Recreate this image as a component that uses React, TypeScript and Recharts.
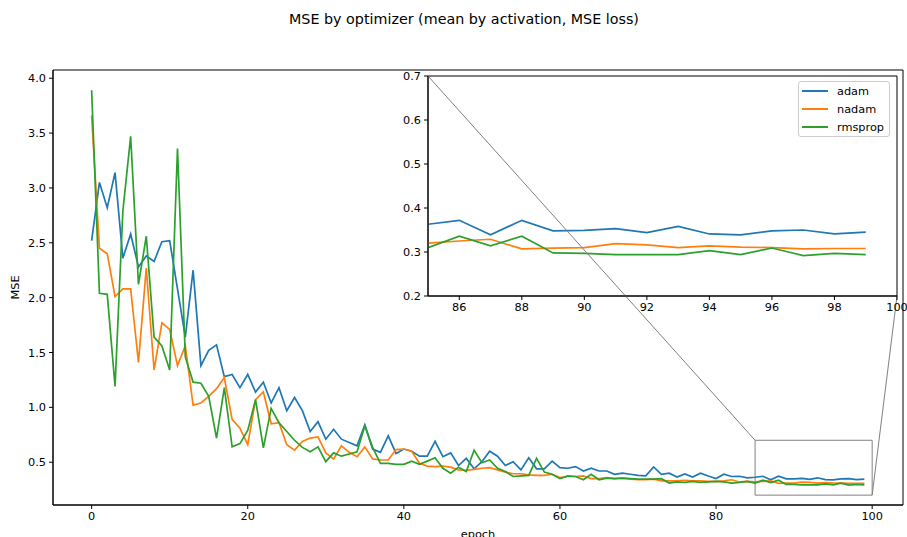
import React from 'react';
import {
  LineChart,
  Line,
  XAxis,
  YAxis,
  CartesianGrid,
  ReferenceArea,
  ReferenceLine,
  Legend,
  Label,
} from 'recharts';

// ---- data ----
const epochs = Array.from({ length: 100 }, (_, i) => i);

const adam = [
  2.52, 3.05, 2.82, 3.14, 2.36, 2.58, 2.28, 2.38, 2.33, 2.51,
  2.52, 2.08, 1.64, 2.25, 1.38, 1.52, 1.57, 1.28, 1.30, 1.18,
  1.30, 1.14, 1.23, 1.04, 1.18, 0.97, 1.09, 0.97, 0.78, 0.87,
  0.71, 0.80, 0.71, 0.68, 0.65, 0.84, 0.62, 0.59, 0.74, 0.58,
  0.62, 0.60, 0.555, 0.555, 0.69, 0.55, 0.585, 0.47, 0.535, 0.44,
  0.505, 0.60, 0.555, 0.47, 0.505, 0.43, 0.54, 0.44, 0.44, 0.51,
  0.45, 0.445, 0.46, 0.42, 0.445, 0.42, 0.42, 0.39, 0.40, 0.39,
  0.38, 0.375, 0.457, 0.39, 0.40, 0.365, 0.393, 0.365, 0.40, 0.374,
  0.351, 0.39, 0.37, 0.372, 0.357, 0.363, 0.372, 0.339, 0.372, 0.348,
  0.349, 0.353, 0.344, 0.358, 0.341, 0.339, 0.348, 0.350, 0.341, 0.345,
];

const nadam = [
  3.66, 2.45, 2.40, 2.01, 2.08, 2.08, 1.41, 2.27, 1.34, 1.77,
  1.71, 1.38, 1.56, 1.02, 1.04, 1.10, 1.17, 1.27, 0.89, 0.81,
  0.66, 1.07, 1.14, 0.85, 0.86, 0.66, 0.61, 0.69, 0.72, 0.73,
  0.585, 0.53, 0.65, 0.59, 0.55, 0.64, 0.53, 0.52, 0.52, 0.615,
  0.62, 0.60, 0.49, 0.465, 0.46, 0.465, 0.455, 0.43, 0.425, 0.435,
  0.445, 0.45, 0.43, 0.41, 0.395, 0.395, 0.385, 0.38, 0.38, 0.39,
  0.36, 0.37, 0.37, 0.375, 0.35, 0.35, 0.36, 0.35, 0.355, 0.345,
  0.34, 0.34, 0.345, 0.33, 0.33, 0.33, 0.335, 0.33, 0.33, 0.325,
  0.325, 0.33, 0.34, 0.32, 0.325, 0.320, 0.325, 0.329, 0.307, 0.309,
  0.310, 0.319, 0.316, 0.310, 0.314, 0.311, 0.310, 0.307, 0.308, 0.308,
];

const rmsprop = [
  3.89, 2.04, 2.03, 1.19, 2.79, 3.47, 2.12, 2.56, 1.64, 1.56,
  1.34, 3.36, 1.46, 1.23, 1.22, 1.10, 0.72, 1.18, 0.64, 0.67,
  0.79, 1.07, 0.63, 0.99, 0.86, 0.78, 0.70, 0.635, 0.595, 0.64,
  0.505, 0.585, 0.555, 0.575, 0.595, 0.83, 0.635, 0.49, 0.49, 0.48,
  0.48, 0.51, 0.48, 0.51, 0.54, 0.445, 0.40, 0.455, 0.415, 0.61,
  0.495, 0.52, 0.445, 0.415, 0.37, 0.375, 0.38, 0.535, 0.41, 0.39,
  0.35, 0.375, 0.37, 0.34, 0.39, 0.34, 0.355, 0.35, 0.355, 0.35,
  0.345, 0.345, 0.345, 0.35, 0.31, 0.32, 0.315, 0.325, 0.315, 0.32,
  0.325, 0.32, 0.31, 0.315, 0.325, 0.310, 0.336, 0.314, 0.336, 0.298,
  0.297, 0.294, 0.294, 0.294, 0.303, 0.294, 0.309, 0.292, 0.297, 0.294,
];

const seriesNames = ['adam', 'nadam', 'rmsprop'];
const seriesColors = ['#1f77b4', '#ff7f0e', '#2ca02c'];

const mainXTicks = [0, 20, 40, 60, 80, 100];
const mainYTicks = [0.5, 1.0, 1.5, 2.0, 2.5, 3.0, 3.5, 4.0];
const insetXTicks = [86, 88, 90, 92, 94, 96, 98, 100];
const insetYTicks = [0.2, 0.3, 0.4, 0.5, 0.6, 0.7];

// zoom window shown in the inset
const zoomEpochs = [85, 100];
const zoomMse = [0.2, 0.7];

const data = epochs.map((epoch, i) => ({
  epoch,
  adam: adam[i],
  nadam: nadam[i],
  rmsprop: rmsprop[i],
}));
const insetData = data.filter((d) => d.epoch >= zoomEpochs[0]);

// ---- layout ----
const W = 907;
const H = 537;
const FONT = 'DejaVu Sans';
const TICK = { fill: '#000', fontSize: 11.3 };

const MAIN = { left: 53, top: 70, right: 903, bottom: 505 };
const MAIN_X = [-4.95, 103.95];
const MAIN_Y = [0.11, 4.075];
const INSET = { left: 428, top: 76, right: 897, bottom: 296 };

// main data -> pixel -> inset data, so the connector lines can be drawn on top of the inset
const mainPx = (x: number, y: number) => [
  MAIN.left + ((x - MAIN_X[0]) / (MAIN_X[1] - MAIN_X[0])) * (MAIN.right - MAIN.left),
  MAIN.bottom - ((y - MAIN_Y[0]) / (MAIN_Y[1] - MAIN_Y[0])) * (MAIN.bottom - MAIN.top),
];
const toInset = (px: number, py: number) => ({
  x: zoomEpochs[0] + ((px - INSET.left) / (INSET.right - INSET.left)) * (zoomEpochs[1] - zoomEpochs[0]),
  y: zoomMse[1] - ((py - INSET.top) / (INSET.bottom - INSET.top)) * (zoomMse[1] - zoomMse[0]),
});
const cornerA = toInset(...(mainPx(zoomEpochs[0], zoomMse[1]) as [number, number]));
const cornerB = toInset(...(mainPx(zoomEpochs[1], zoomMse[0]) as [number, number]));

const fmt1 = (v: number) => v.toFixed(1);

const InsetLegend = ({ payload }: any) => (
  <div
    style={{
      border: '1px solid #cccccc',
      borderRadius: 3,
      background: 'rgba(255,255,255,0.8)',
      padding: '0 5px 0 3px',
      fontSize: 11.3,
      color: '#000',
    }}
  >
    {(payload || []).map((p: any) => (
      <div key={p.value} style={{ display: 'flex', alignItems: 'center', height: 18 }}>
        <span
          style={{
            display: 'inline-block',
            width: 26,
            height: 2,
            background: seriesColors[seriesNames.indexOf(p.value)],
            marginRight: 9,
          }}
        />
        <span>{p.value}</span>
      </div>
    ))}
  </div>
);

export default function App() {
  return (
    <div style={{ position: 'absolute', left: 0, top: 0, width: W, height: H, background: '#fff', fontFamily: FONT, overflow: 'hidden' }}>
      <div style={{ position: 'absolute', left: 214, top: 11, width: 500, textAlign: 'center', fontSize: 14.3, color: '#000' }}>
        MSE by optimizer (mean by activation, MSE loss)
      </div>

      {/* main axes */}
      <div style={{ position: 'absolute', left: 0, top: 0 }}>
        <LineChart width={W} height={H} data={data} margin={{ top: MAIN.top, right: W - MAIN.right, bottom: 0, left: 0 }}>
          <XAxis
            dataKey="epoch"
            type="number"
            domain={MAIN_X}
            ticks={mainXTicks}
            interval={0}
            allowDataOverflow
            height={H - MAIN.bottom}
            stroke="#000"
            tickSize={4}
            tickMargin={3}
            tick={TICK}
          >
            <Label value="epoch" position="insideBottom" offset={-1} style={{ fill: '#000', fontSize: 11.3 }} />
          </XAxis>
          <YAxis
            type="number"
            domain={MAIN_Y}
            ticks={mainYTicks}
            interval={0}
            allowDataOverflow
            width={MAIN.left}
            stroke="#000"
            tickSize={4}
            tickMargin={3}
            tick={TICK}
            tickFormatter={fmt1}
          >
            <Label value="MSE" angle={-90} position="insideLeft" offset={15} style={{ fill: '#000', fontSize: 11.3, textAnchor: 'middle' }} />
          </YAxis>
          <ReferenceArea x1={MAIN_X[0]} x2={MAIN_X[1]} y1={MAIN_Y[0]} y2={MAIN_Y[1]} fill="none" stroke="#000" strokeWidth={1} ifOverflow="visible" />
          {seriesNames.map((name, i) => (
            <Line
              key={name}
              type="linear"
              dataKey={name}
              name={name}
              stroke={seriesColors[i]}
              strokeWidth={1.7}
              dot={false}
              isAnimationActive={false}
            />
          ))}
          <ReferenceArea
            x1={zoomEpochs[0]}
            x2={zoomEpochs[1]}
            y1={zoomMse[0]}
            y2={zoomMse[1]}
            fill="none"
            stroke="#808080"
            strokeWidth={1}
            ifOverflow="visible"
          />
        </LineChart>
      </div>

      {/* inset axes */}
      <div style={{ position: 'absolute', left: 0, top: 0 }}>
        <LineChart
          width={W}
          height={H}
          data={insetData}
          margin={{ top: INSET.top, right: W - INSET.right, bottom: H - INSET.bottom - 20, left: INSET.left - 30 }}
        >
          <CartesianGrid horizontal={false} vertical={false} fill="#fff" fillOpacity={1} />
          <XAxis
            dataKey="epoch"
            type="number"
            domain={zoomEpochs}
            ticks={insetXTicks}
            interval={0}
            allowDataOverflow
            height={20}
            stroke="#000"
            tickSize={4}
            tickMargin={3}
            tick={TICK}
          />
          <YAxis
            type="number"
            domain={zoomMse}
            ticks={insetYTicks}
            interval={0}
            allowDataOverflow
            width={30}
            stroke="#000"
            tickSize={4}
            tickMargin={3}
            tick={TICK}
            tickFormatter={fmt1}
          />
          {seriesNames.map((name, i) => (
            <Line
              key={name}
              type="linear"
              dataKey={name}
              name={name}
              stroke={seriesColors[i]}
              strokeWidth={1.7}
              dot={false}
              isAnimationActive={false}
            />
          ))}
          <ReferenceArea x1={zoomEpochs[0]} x2={zoomEpochs[1]} y1={zoomMse[0]} y2={zoomMse[1]} fill="none" stroke="#000" strokeWidth={1} ifOverflow="visible" />
          <ReferenceLine
            segment={[{ x: zoomEpochs[0], y: zoomMse[1] }, cornerA]}
            stroke="#808080"
            strokeWidth={1}
            ifOverflow="visible"
          />
          <ReferenceLine
            segment={[{ x: zoomEpochs[1], y: zoomMse[0] }, cornerB]}
            stroke="#808080"
            strokeWidth={1}
            ifOverflow="visible"
          />
          <Legend
            layout="vertical"
            align="center"
            verticalAlign="middle"
            content={InsetLegend}
            wrapperStyle={{ position: 'absolute', left: 798, top: 81, width: 'auto', height: 'auto' }}
          />
        </LineChart>
      </div>
    </div>
  );
}
